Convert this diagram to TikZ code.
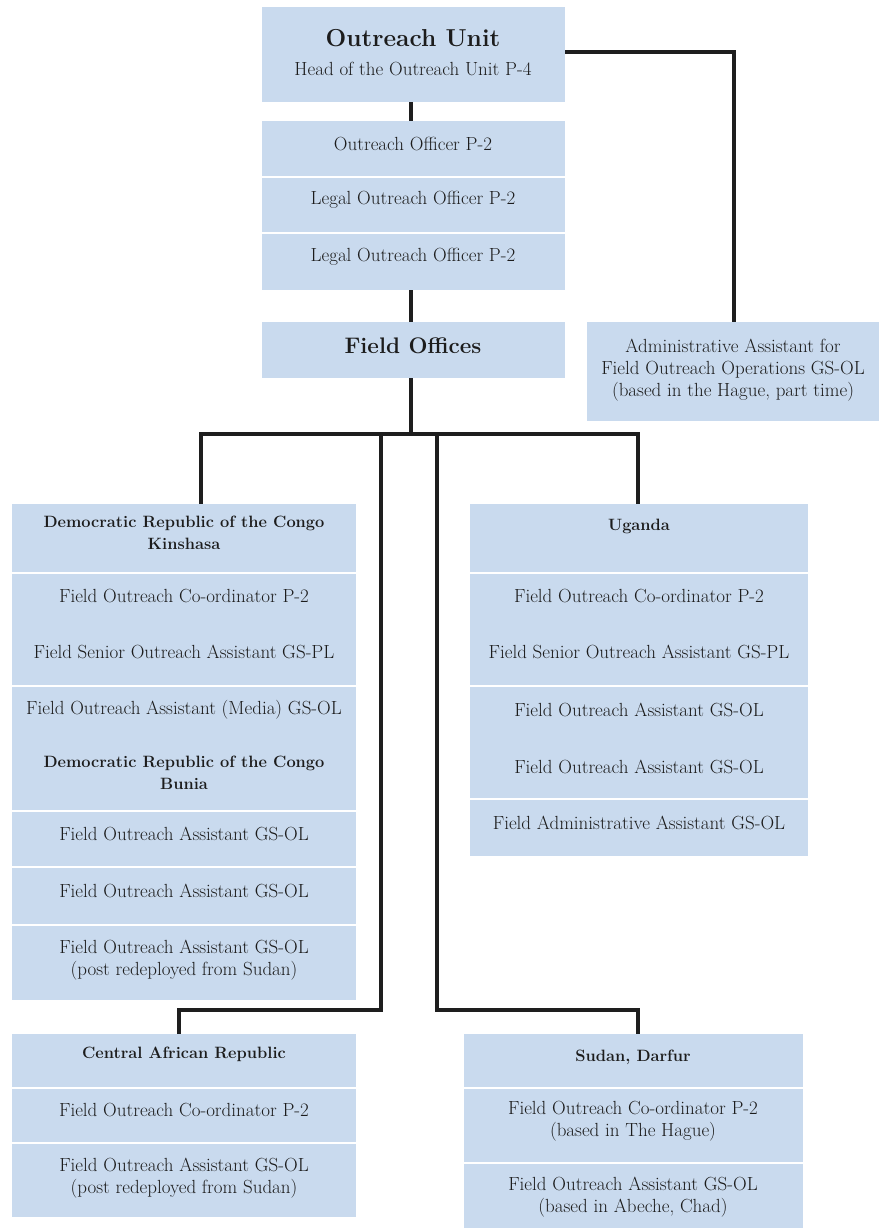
\documentclass[tikz,border=0pt]{standalone}
\usepackage{fontspec}
\definecolor{boxblue}{HTML}{C9DAEE}
\definecolor{txtc}{HTML}{1C1C1C}
\definecolor{linec}{HTML}{1E1E1E}
\tikzset{
  box/.style={rectangle, fill=boxblue, draw=none, inner sep=0pt},
  txt/.style={text=txtc, align=center, inner sep=0pt, font=\fontsize{19}{22}\selectfont},
  hdr/.style={text=txtc, align=center, inner sep=0pt, font=\bfseries\fontsize{16.4}{21.5}\selectfont},
  conn/.style={draw=linec, line width=3.2pt}
}
\newcommand\bx[5]{\node[box, minimum width={(#4-#2)*1pt}, minimum height={(#5-#3)*1pt}] (#1) at ({(#2+#4)/2},{(#3+#5)/2}) {};}
\begin{document}
\begin{tikzpicture}[x=1pt,y=-1pt]
\fill[white] (0,0) rectangle (879,1228);
\useasboundingbox (0,0) rectangle (879,1228);
% boxes
\bx{top}{262}{7}{565}{102}
\bx{off1}{262}{121}{565}{176}
\bx{off2}{262}{178}{565}{232}
\bx{off3}{262}{234}{565}{290}
\bx{fo}{262}{322}{565}{378}
\bx{admin}{587}{322}{879}{421}
\bx{drc1}{12}{504}{356}{572}
\bx{drc2}{12}{574}{356}{685}
\bx{drc3}{12}{687}{356}{810}
\bx{drc4}{12}{812}{356}{866}
\bx{drc5}{12}{868}{356}{924}
\bx{drc6}{12}{926}{356}{1000}
\bx{uga1}{470}{504}{808}{572}
\bx{uga2}{470}{574}{808}{685}
\bx{uga3}{470}{687}{808}{798}
\bx{uga4}{470}{800}{808}{856}
\bx{car1}{12}{1034}{356}{1087}
\bx{car2}{12}{1089}{356}{1142}
\bx{car3}{12}{1144}{356}{1217}
\bx{sud1}{464}{1034}{803}{1087}
\bx{sud2}{464}{1089}{803}{1162}
\bx{sud3}{464}{1164}{803}{1228}
% texts
\node[hdr, font=\bfseries\fontsize{24.5}{28}\selectfont] (tTop) at (413,38) {Outreach Unit};
\node[txt] (tHead) at (413,69) {Head of the Outreach Unit P-4};
\node[txt] (tO1) at (413,144) {Outreach Officer P-2};
\node[txt] (tO2) at (413,200) {Legal Outreach Officer P-2};
\node[txt] (tO3) at (413,257) {Legal Outreach Officer P-2};
\node[hdr, font=\bfseries\fontsize{22.5}{26}\selectfont] (tFO) at (413,346) {Field Offices};
\node[txt] (tAdm) at (733,370) {Administrative Assistant for\\Field Outreach Operations GS-OL\\(based in the Hague, part time)};
\node[hdr] (tD1) at (184,533) {Democratic Republic of the Congo\\Kinshasa};
\node[txt] (tD2) at (184,596) {Field Outreach Co-ordinator P-2};
\node[txt] (tD3) at (184,652) {Field Senior Outreach Assistant GS-PL};
\node[txt] (tD4) at (184,710) {Field Outreach Assistant (Media) GS-OL};
\node[hdr] (tD5) at (184,773) {Democratic Republic of the Congo\\Bunia};
\node[txt] (tD6) at (184,834) {Field Outreach Assistant GS-OL};
\node[txt] (tD7) at (184,891) {Field Outreach Assistant GS-OL};
\node[txt] (tD8) at (184,960) {Field Outreach Assistant GS-OL\\(post redeployed from Sudan)};
\node[hdr] (tU1) at (639,526) {Uganda};
\node[txt] (tU2) at (639,596) {Field Outreach Co-ordinator P-2};
\node[txt] (tU3) at (639,652) {Field Senior Outreach Assistant GS-PL};
\node[txt] (tU4) at (639,710) {Field Outreach Assistant GS-OL};
\node[txt] (tU5) at (639,767) {Field Outreach Assistant GS-OL};
\node[txt] (tU6) at (639,823) {Field Administrative Assistant GS-OL};
\node[hdr] (tC1) at (184,1054) {Central African Republic};
\node[txt] (tC2) at (184,1110) {Field Outreach Co-ordinator P-2};
\node[txt] (tC3) at (184,1178) {Field Outreach Assistant GS-OL\\(post redeployed from Sudan)};
\node[hdr] (tS1) at (633,1057) {Sudan, Darfur};
\node[txt] (tS2) at (633,1121) {Field Outreach Co-ordinator P-2\\(based in The Hague)};
\node[txt] (tS3) at (633,1197) {Field Outreach Assistant GS-OL\\(based in Abeche, Chad)};
% connector coordinates
\coordinate (jL) at (201,434);
\coordinate (jR) at (638,434);
\coordinate (jM) at (411,434);
\coordinate (v1) at (381,434);
\coordinate (v2) at (437,434);
\coordinate (c1) at (381,1010);
\coordinate (c2) at (179,1010);
\coordinate (c3) at (437,1010);
\coordinate (c4) at (638,1010);
\coordinate (a1) at (734,52);
% connectors
\draw[conn] (top.south -| jM) -- (off1.north -| jM);
\draw[conn] (top.east |- a1) -- (a1) -- (a1 |- admin.north);
\draw[conn] (off3.south -| jM) -- (fo.north -| jM);
\draw[conn] (fo.south -| jM) -- (jM);
\draw[conn] (jL |- drc1.north) -- (jL) -- (jR) -- (jR |- uga1.north);
\draw[conn] (v1) -- (c1) -- (c2) -- (c2 |- car1.north);
\draw[conn] (v2) -- (c3) -- (c4) -- (c4 |- sud1.north);
\end{tikzpicture}
\end{document}
